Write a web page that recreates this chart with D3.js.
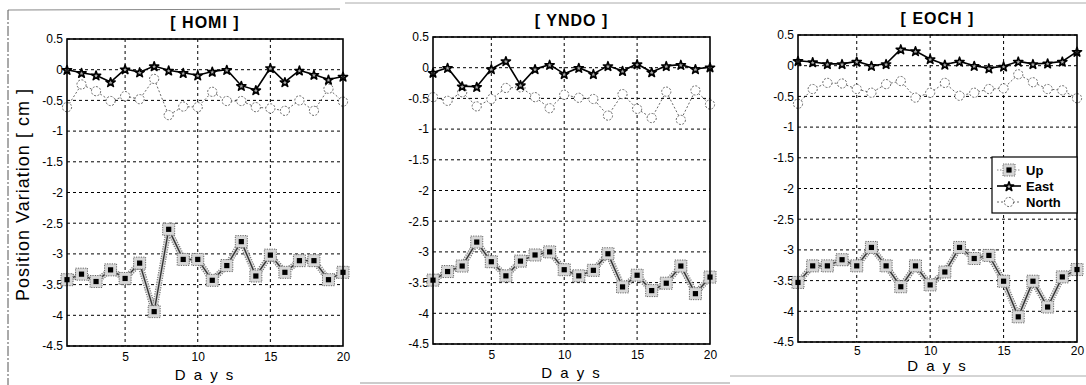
<!DOCTYPE html>
<html>
<head>
<meta charset="utf-8">
<script src="https://cdn.jsdelivr.net/npm/d3@7"></script>
<style>
  html, body { margin: 0; padding: 0; background: #fff; }
  svg { display: block; }
  text { font-family: "Liberation Sans", Arial, sans-serif; fill: #000; }
</style>
</head>
<body>
<svg id="chart" width="1086" height="385"></svg>
<script>
// Daily position variations (cm) for three GPS stations over 20 days
const days = [1, 2, 3, 4, 5, 6, 7, 8, 9, 10, 11, 12, 13, 14, 15, 16, 17, 18, 19, 20];
const stations = ["HOMI", "YNDO", "EOCH"];
const seriesNames = ["Up", "East", "North"];

const homiUp    = [-3.42, -3.33, -3.45, -3.26, -3.40, -3.15, -3.94, -2.60, -3.09, -3.09, -3.43, -3.19, -2.80, -3.36, -3.02, -3.30, -3.11, -3.11, -3.42, -3.30];
const homiEast  = [0.00, -0.05, -0.09, -0.20, 0.01, -0.04, 0.06, -0.01, -0.05, -0.09, -0.03, 0.00, -0.26, -0.33, 0.03, -0.20, -0.01, -0.08, -0.16, -0.11];
const homiNorth = [-0.61, -0.24, -0.35, -0.51, -0.43, -0.48, -0.15, -0.74, -0.60, -0.61, -0.36, -0.51, -0.51, -0.61, -0.63, -0.67, -0.50, -0.67, -0.31, -0.52];

const yndoUp    = [-3.46, -3.32, -3.23, -2.84, -3.16, -3.39, -3.15, -3.05, -3.00, -3.29, -3.39, -3.30, -3.03, -3.57, -3.38, -3.63, -3.51, -3.23, -3.68, -3.41];
const yndoEast  = [-0.08, 0.00, -0.30, -0.31, -0.02, 0.11, -0.28, -0.02, 0.05, -0.10, 0.00, -0.10, 0.03, -0.05, 0.06, -0.07, 0.03, 0.05, -0.02, 0.01];
const yndoNorth = [-0.48, -0.54, -0.40, -0.63, -0.51, -0.33, -0.32, -0.48, -0.66, -0.44, -0.49, -0.51, -0.78, -0.43, -0.67, -0.82, -0.39, -0.85, -0.37, -0.60];

const eochUp    = [-3.53, -3.26, -3.26, -3.16, -3.26, -2.96, -3.26, -3.60, -3.26, -3.57, -3.36, -2.96, -3.14, -3.09, -3.51, -4.09, -3.51, -3.93, -3.44, -3.32];
const eochEast  = [0.08, 0.06, 0.03, 0.03, 0.07, 0.00, 0.03, 0.27, 0.24, 0.11, 0.02, 0.07, 0.00, -0.04, -0.01, 0.07, 0.03, 0.04, 0.07, 0.23];
const eochNorth = [-0.62, -0.38, -0.28, -0.29, -0.38, -0.44, -0.30, -0.25, -0.52, -0.44, -0.28, -0.49, -0.44, -0.38, -0.37, -0.14, -0.27, -0.38, -0.40, -0.53];

const yTicks = [0.5, 0, -0.5, -1, -1.5, -2, -2.5, -3, -3.5, -4, -4.5];
const xTicks = [5, 10, 15, 20];

const stationData = {
  HOMI: { up: homiUp, east: homiEast, north: homiNorth },
  YNDO: { up: yndoUp, east: yndoEast, north: yndoNorth },
  EOCH: { up: eochUp, east: eochEast, north: eochNorth }
};

// Axes frames (left, right, top, bottom), tick padding and x-label baseline per subplot
const frames = [
  { x0: 67,  x1: 343,  y0: 39, y1: 346, pad: 6, xlab: 380 },
  { x0: 433, x1: 710,  y0: 37, y1: 344, pad: 6, xlab: 378 },
  { x0: 798, x1: 1077, y0: 35, y1: 342, pad: 4, xlab: 371 }
];

const svg = d3.select("#chart");

// Faint scanned page frame
const frameG = svg.append("g").attr("stroke", "#888").attr("fill", "none");
frameG.append("line").attr("x1", 8).attr("y1", 10).attr("x2", 340).attr("y2", 9).attr("stroke-width", 1);
frameG.append("line").attr("x1", 345).attr("y1", 3).attr("x2", 1086).attr("y2", 3).attr("stroke-width", 1).attr("stroke", "#aaa");
frameG.append("line").attr("x1", 8).attr("y1", 10).attr("x2", 8).attr("y2", 385)
  .attr("stroke-dasharray", "10,2,2,2").attr("stroke", "#555");
frameG.append("line").attr("x1", 360).attr("y1", 383).attr("x2", 730).attr("y2", 383).attr("stroke", "#999");
frameG.append("line").attr("x1", 730).attr("y1", 376).attr("x2", 1086).attr("y2", 376).attr("stroke", "#aaa");

// Marker drawing helpers
const star = d3.symbol().type(d3.symbolStar).size(26);

function drawUpLine(g, pts) {
  const line = d3.line().x(d => d[0]).y(d => d[1]);
  g.append("path").attr("d", line(pts)).attr("fill", "none")
    .attr("stroke", "#777").attr("stroke-width", 6).attr("stroke-dasharray", "1.2,1.2");
  g.append("path").attr("d", line(pts)).attr("fill", "none")
    .attr("stroke", "#d0d0d0").attr("stroke-width", 3.6);
  g.append("path").attr("d", line(pts)).attr("fill", "none")
    .attr("stroke", "#333").attr("stroke-width", 1.4);
}
function drawUpMarker(g, x, y) {
  g.append("rect").attr("x", x - 6).attr("y", y - 6).attr("width", 12).attr("height", 12)
    .attr("fill", "#d6d6d6").attr("stroke", "#666").attr("stroke-width", 1).attr("stroke-dasharray", "1.2,1.2");
  g.append("rect").attr("x", x - 2.6).attr("y", y - 2.6).attr("width", 5.2).attr("height", 5.2)
    .attr("fill", "#000");
}
function drawEastMarker(g, x, y) {
  g.append("path").attr("d", star()).attr("transform", `translate(${x},${y + 0.6})`)
    .attr("fill", "#aaa").attr("stroke", "#000").attr("stroke-width", 1.6).attr("stroke-linejoin", "round");
}
function drawNorthMarker(g, x, y) {
  g.append("circle").attr("cx", x).attr("cy", y).attr("r", 4.6)
    .attr("fill", "#fff").attr("stroke", "#666").attr("stroke-width", 1).attr("stroke-dasharray", "2,1.5");
}

stations.forEach((name, i) => {
  const f = frames[i];
  const data = stationData[name];
  const g = svg.append("g");

  const x = d3.scaleLinear().domain([1, 20]).range([f.x0, f.x1]);
  const y = d3.scaleLinear().domain([-4.5, 0.5]).range([f.y1, f.y0]);

  // Grid
  const grid = g.append("g").attr("stroke", "#000").attr("stroke-width", 1).attr("stroke-dasharray", "3,3");
  yTicks.forEach(t => {
    grid.append("line").attr("x1", f.x0).attr("x2", f.x1).attr("y1", y(t)).attr("y2", y(t));
  });
  xTicks.filter(t => t < 20).forEach(t => {
    grid.append("line").attr("x1", x(t)).attr("x2", x(t)).attr("y1", f.y0).attr("y2", f.y1);
  });

  // Axes with tick labels
  const yAxis = d3.axisLeft(y).tickValues(yTicks).tickSize(0).tickPadding(4).tickFormat(d => String(d));
  const xAxis = d3.axisBottom(x).tickValues(xTicks).tickSize(0).tickPadding(f.pad).tickFormat(d => String(d));
  const ya = g.append("g").attr("transform", `translate(${f.x0},0)`).call(yAxis);
  const xa = g.append("g").attr("transform", `translate(0,${f.y1})`).call(xAxis);
  [ya, xa].forEach(a => {
    a.select(".domain").remove();
    a.selectAll("text").attr("font-size", 12).attr("font-family", "Liberation Sans, Arial, sans-serif").attr("fill", "#000");
  });

  // Series points in pixel space
  const upPts = days.map((d, k) => [x(d), y(data.up[k])]);
  const eastPts = days.map((d, k) => [x(d), y(data.east[k])]);
  const northPts = days.map((d, k) => [x(d), y(data.north[k])]);
  const line = d3.line().x(d => d[0]).y(d => d[1]);

  // Up: grey band with square markers
  const sUp = g.append("g");
  drawUpLine(sUp, upPts);
  upPts.forEach(p => drawUpMarker(sUp, p[0], p[1]));

  // North: dotted grey line with circles
  const sNorth = g.append("g");
  sNorth.append("path").attr("d", line(northPts)).attr("fill", "none")
    .attr("stroke", "#666").attr("stroke-width", 1).attr("stroke-dasharray", "2,2");
  northPts.forEach(p => drawNorthMarker(sNorth, p[0], p[1]));

  // East: solid black line with stars
  const sEast = g.append("g");
  sEast.append("path").attr("d", line(eastPts)).attr("fill", "none")
    .attr("stroke", "#000").attr("stroke-width", 1.6);
  eastPts.forEach(p => drawEastMarker(sEast, p[0], p[1]));

  // Axes box
  g.append("rect").attr("x", f.x0).attr("y", f.y0).attr("width", f.x1 - f.x0).attr("height", f.y1 - f.y0)
    .attr("fill", "none").attr("stroke", "#000").attr("stroke-width", 1.6);

  // Title and x label
  g.append("text").attr("x", (f.x0 + f.x1) / 2).attr("y", f.y0 - 11)
    .attr("text-anchor", "middle").attr("font-size", 16).attr("font-weight", "bold")
    .attr("letter-spacing", 1).text(`[ ${name} ]`);
  g.append("text").attr("x", (f.x0 + f.x1) / 2).attr("y", f.xlab)
    .attr("text-anchor", "middle").attr("font-size", 15).attr("letter-spacing", 2)
    .text("D a y s");

  // Legend in the last subplot
  if (i === stations.length - 1) {
    const lg = g.append("g");
    const lx0 = 992, ly0 = 157, lw = f.x1 - lx0, lh = 56;
    lg.append("rect").attr("x", lx0).attr("y", ly0).attr("width", lw).attr("height", lh)
      .attr("fill", "#fff").attr("stroke", "#000").attr("stroke-width", 1.2);
    const rows = [ly0 + 13, ly0 + 29, ly0 + 45];
    // Up
    lg.append("line").attr("x1", lx0 + 5).attr("x2", lx0 + 29).attr("y1", rows[0]).attr("y2", rows[0])
      .attr("stroke", "#888").attr("stroke-width", 1).attr("stroke-dasharray", "1.5,1.5");
    drawUpMarker(lg, lx0 + 17, rows[0]);
    // East
    lg.append("line").attr("x1", lx0 + 5).attr("x2", lx0 + 29).attr("y1", rows[1]).attr("y2", rows[1])
      .attr("stroke", "#000").attr("stroke-width", 1.6);
    drawEastMarker(lg, lx0 + 17, rows[1]);
    // North
    lg.append("line").attr("x1", lx0 + 5).attr("x2", lx0 + 29).attr("y1", rows[2]).attr("y2", rows[2])
      .attr("stroke", "#666").attr("stroke-width", 1).attr("stroke-dasharray", "2,2");
    drawNorthMarker(lg, lx0 + 17, rows[2]);
    seriesNames.forEach((s, k) => {
      lg.append("text").attr("x", lx0 + 34).attr("y", rows[k] + 4.5)
        .attr("font-size", 13).attr("font-weight", "bold").text(s);
    });
  }
});

// Shared y-axis label
svg.append("text")
  .attr("transform", "translate(29,195) rotate(-90)")
  .attr("text-anchor", "middle").attr("font-size", 18)
  .attr("textLength", 212).attr("lengthAdjust", "spacing")
  .text("Position Variation [ cm ]");
</script>
</body>
</html>
